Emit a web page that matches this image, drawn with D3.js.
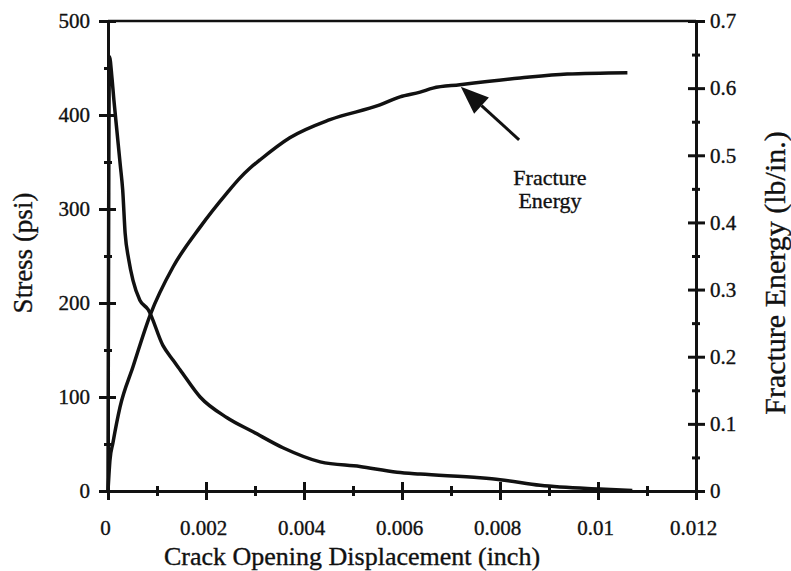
<!DOCTYPE html>
<html><head><meta charset="utf-8">
<script src="https://cdn.jsdelivr.net/npm/d3@7"></script>
<style>body{margin:0;background:#fff}svg{display:block}</style>
</head><body>
<svg id="chart" width="791" height="571"></svg>
<script>
// Stress (psi) vs crack opening displacement (inch)
const stressX = [0, 0.00003, 0.00008, 0.00012, 0.00018, 0.00025, 0.0003, 0.00035, 0.00042, 0.00051, 0.00065, 0.00082, 0.00112, 0.00133, 0.00147, 0.00188, 0.00243, 0.00296, 0.00357, 0.00433, 0.00514, 0.0059, 0.00637, 0.00759, 0.0080, 0.00882, 0.01004, 0.0107];
const stressY = [0, 462, 440, 416, 384, 347, 320, 274, 247, 224, 203, 193, 155, 139, 129, 100, 78, 63, 46, 31, 26, 20, 18, 14, 12, 6, 2, 0.5];
// Fracture energy (lb/in.) vs crack opening displacement (inch)
const energyX = [0, 0.00004, 0.0001, 0.000245, 0.00051, 0.00086, 0.00133, 0.00188, 0.00243, 0.00269, 0.0029, 0.0031, 0.00371, 0.00453, 0.00555, 0.00596, 0.00637, 0.00663, 0.00718, 0.00841, 0.00937, 0.0106];
const energyY = [0, 0.046, 0.0715, 0.125, 0.185, 0.262, 0.334, 0.393, 0.444, 0.466, 0.481, 0.493, 0.526, 0.553, 0.575, 0.587, 0.594, 0.600, 0.605, 0.615, 0.621, 0.623];
// Tick values
const xMajor = [0, 0.002, 0.004, 0.006, 0.008, 0.010, 0.012];
const xLabels = ["0", "0.002", "0.004", "0.006", "0.008", "0.01", "0.012"];
const xMinor = [0.001, 0.003, 0.005, 0.007, 0.009, 0.011];
const yMajor = [0, 100, 200, 300, 400, 500];
const yMinor = [50, 150, 250, 350, 450];
const y2Major = [0, 0.1, 0.2, 0.3, 0.4, 0.5, 0.6, 0.7];
const y2Labels = ["0", "0.1", "0.2", "0.3", "0.4", "0.5", "0.6", "0.7"];
const y2Minor = [0.05, 0.15, 0.25, 0.35, 0.45, 0.55, 0.65];
// Annotation
const noteLines = ["Fracture", "Energy"];
const arrowFrom = [0.00839, 0.523]; // tail (x, energy)
const arrowTo = [0.00720, 0.602];   // tip (x, energy)

// pick an installed serif font
function pickFont(cands) {
  const ctx = document.createElement("canvas").getContext("2d");
  const s = "Crack Opening Displacement (inch) 0.012";
  const base = {};
  for (const b of ["monospace", "sans-serif"]) { ctx.font = `40px ${b}`; base[b] = ctx.measureText(s).width; }
  for (const c of cands) {
    let ok = true;
    for (const b of ["monospace", "sans-serif"]) {
      ctx.font = `40px "${c}", ${b}`;
      if (Math.abs(ctx.measureText(s).width - base[b]) < 0.5) ok = false;
    }
    if (ok) return `"${c}"`;
  }
  return "serif";
}
const FONT = pickFont(["Liberation Serif", "Times New Roman", "Tinos", "Nimbus Roman", "Times", "DejaVu Serif", "Noto Serif", "FreeSerif"]) + ", serif";

const W = 791, H = 571;
const m = {left: 108, right: 95, top: 21, bottom: 80};
const ink = "#111";
const TXT_STROKE = 0.35;

const svg = d3.select("#chart");
const x = d3.scaleLinear().domain([0, 0.012]).range([m.left, W - m.right]);
const y = d3.scaleLinear().domain([0, 500]).range([H - m.bottom, m.top]);
const y2 = d3.scaleLinear().domain([0, 0.7]).range([H - m.bottom, m.top]);

function styleText(sel) {
  sel.attr("fill", ink).style("font-family", FONT).attr("stroke", ink).attr("stroke-width", TXT_STROKE);
}
function styleAxis(g, w) {
  g.select(".domain").attr("stroke", ink).attr("stroke-width", 3);
  g.selectAll(".tick line").attr("stroke", ink).attr("stroke-width", w);
  g.attr("font-family", FONT);
  styleText(g.selectAll("text"));
}

const x0 = H - m.bottom, xl = m.left, xr = W - m.right;

// top border
svg.append("line").attr("x1", xl).attr("x2", xr).attr("y1", m.top).attr("y2", m.top)
  .attr("stroke", ink).attr("stroke-width", 2.5);

// Bottom axis: major ticks crossing
const bx1 = svg.append("g").attr("transform", `translate(0,${x0})`)
  .call(d3.axisBottom(x).tickValues(xMajor).tickSize(9).tickSizeOuter(0).tickPadding(20)
    .tickFormat((d, i) => xLabels[i]));
bx1.selectAll("text").attr("font-size", 21).attr("dx", -3);
styleAxis(bx1, 3);
const bx2 = svg.append("g").attr("transform", `translate(0,${x0})`)
  .call(d3.axisTop(x).tickValues(xMajor).tickSize(9).tickSizeOuter(0).tickFormat(""));
styleAxis(bx2, 3);
const bx3 = svg.append("g").attr("transform", `translate(0,${x0})`)
  .call(d3.axisBottom(x).tickValues(xMinor).tickSize(5).tickSizeOuter(0).tickFormat(""));
styleAxis(bx3, 3);
const bx4 = svg.append("g").attr("transform", `translate(0,${x0})`)
  .call(d3.axisTop(x).tickValues(xMinor).tickSize(5).tickSizeOuter(0).tickFormat(""));
styleAxis(bx4, 3);

// Left axis
const ly1 = svg.append("g").attr("transform", `translate(${xl},0)`)
  .call(d3.axisLeft(y).tickValues(yMajor).tickSize(9).tickSizeOuter(0).tickPadding(9).tickFormat(d3.format("d")));
ly1.selectAll("text").attr("font-size", 21);
styleAxis(ly1, 3);
const ly2 = svg.append("g").attr("transform", `translate(${xl},0)`)
  .call(d3.axisRight(y).tickValues(yMajor).tickSize(8).tickSizeOuter(0).tickFormat(""));
styleAxis(ly2, 3);
const ly3 = svg.append("g").attr("transform", `translate(${xl},0)`)
  .call(d3.axisLeft(y).tickValues(yMinor).tickSize(4).tickSizeOuter(0).tickFormat(""));
styleAxis(ly3, 3);
const ly4 = svg.append("g").attr("transform", `translate(${xl},0)`)
  .call(d3.axisRight(y).tickValues(yMinor).tickSize(4).tickSizeOuter(0).tickFormat(""));
styleAxis(ly4, 3);

// Right axis
const ry1 = svg.append("g").attr("transform", `translate(${xr},0)`)
  .call(d3.axisRight(y2).tickValues(y2Major).tickSize(9).tickSizeOuter(0).tickPadding(5)
    .tickFormat((d, i) => y2Labels[i]));
ry1.selectAll("text").attr("font-size", 21);
styleAxis(ry1, 3);
const ry2 = svg.append("g").attr("transform", `translate(${xr},0)`)
  .call(d3.axisLeft(y2).tickValues(y2Major).tickSize(8).tickSizeOuter(0).tickFormat(""));
styleAxis(ry2, 3);
const ry3 = svg.append("g").attr("transform", `translate(${xr},0)`)
  .call(d3.axisRight(y2).tickValues(y2Minor).tickSize(4).tickSizeOuter(0).tickFormat(""));
styleAxis(ry3, 3);
const ry4 = svg.append("g").attr("transform", `translate(${xr},0)`)
  .call(d3.axisLeft(y2).tickValues(y2Minor).tickSize(4).tickSizeOuter(0).tickFormat(""));
styleAxis(ry4, 3);

// Curves
const stressData = stressX.map((d, i) => [d, stressY[i]]);
const energyData = energyX.map((d, i) => [d, energyY[i]]);
const lineS = d3.line().x(d => x(d[0])).y(d => y(d[1])).curve(d3.curveMonotoneX);
const lineE = d3.line().x(d => x(d[0])).y(d => y2(d[1])).curve(d3.curveMonotoneX);
svg.append("path").datum(stressData).attr("d", lineS)
  .attr("fill", "none").attr("stroke", ink).attr("stroke-width", 3.5).attr("stroke-linejoin", "round");
svg.append("path").datum(energyData).attr("d", lineE)
  .attr("fill", "none").attr("stroke", ink).attr("stroke-width", 3.5).attr("stroke-linejoin", "round");

// Arrow
const ax1 = x(arrowFrom[0]), ay1 = y2(arrowFrom[1]);
const ax2 = x(arrowTo[0]), ay2 = y2(arrowTo[1]);
const ang = Math.atan2(ay2 - ay1, ax2 - ax1);
const headL = 28, headW = 11;
const bxp = ax2 - headL * Math.cos(ang), byp = ay2 - headL * Math.sin(ang);
svg.append("line").attr("x1", ax1).attr("y1", ay1).attr("x2", bxp).attr("y2", byp)
  .attr("stroke", ink).attr("stroke-width", 3);
svg.append("path")
  .attr("d", d3.line()([
    [ax2, ay2],
    [bxp + headW * Math.sin(ang), byp - headW * Math.cos(ang)],
    [bxp - headW * Math.sin(ang), byp + headW * Math.cos(ang)]
  ]) + "Z")
  .attr("fill", ink);

// Annotation text
const note = svg.append("text").attr("font-size", 22).attr("text-anchor", "middle");
styleText(note);
noteLines.forEach((t, i) => note.append("tspan").attr("x", 550).attr("y", 185 + i * 23).text(t));

// Axis titles
styleText(svg.append("text").attr("x", 352).attr("y", 565).attr("text-anchor", "middle")
  .attr("font-size", 26).text("Crack Opening Displacement (inch)"));
styleText(svg.append("text").attr("transform", "translate(32,253) rotate(-90)").attr("text-anchor", "middle")
  .attr("font-size", 27).text("Stress (psi)"));
styleText(svg.append("text").attr("transform", "translate(785,273) rotate(-90)").attr("text-anchor", "middle")
  .attr("font-size", 30).text("Fracture Energy (lb/in.)"));
</script>
</body></html>
